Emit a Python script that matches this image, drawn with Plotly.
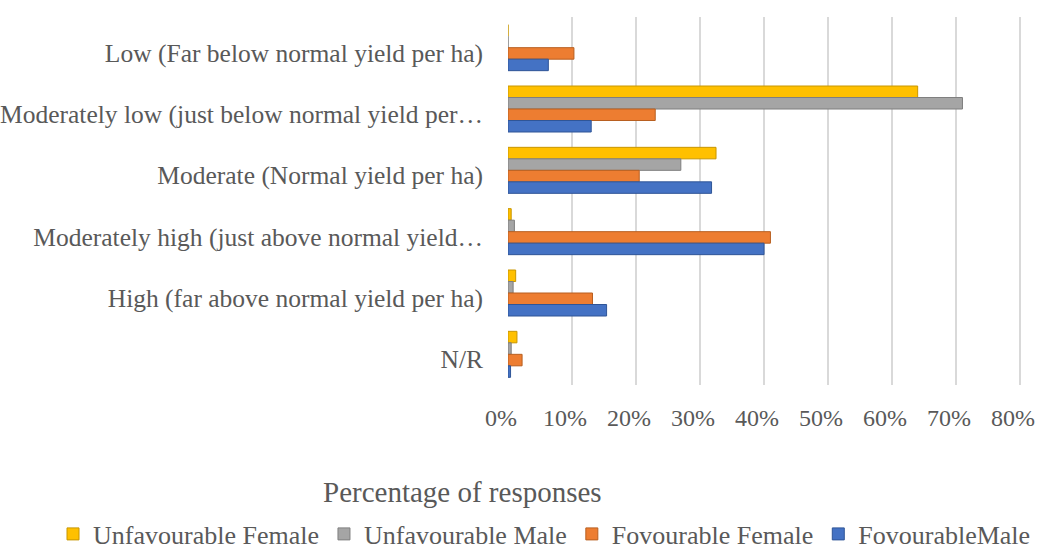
import plotly.graph_objects as go

categories = [
    "Low (Far below normal yield per ha)",
    "Moderately low (just below normal yield per…",
    "Moderate (Normal yield per ha)",
    "Moderately high (just above normal yield…",
    "High (far above normal yield per ha)",
    "N/R",
]
series_names = ["Unfavourable Female", "Unfavourable Male", "Fovourable Female", "FovourableMale"]
unfav_female = [0.0, 64.0, 32.5, 0.5, 1.2, 1.4]
unfav_male = [0.0, 71.0, 27.0, 1.0, 0.8, 0.5]
fav_female = [10.3, 23.0, 20.5, 41.0, 13.2, 2.2]
fav_male = [6.3, 13.0, 31.8, 40.0, 15.4, 0.4]
tick_vals = [0, 10, 20, 30, 40, 50, 60, 70, 80]
tick_text = ["0%", "10%", "20%", "30%", "40%", "50%", "60%", "70%", "80%"]

series_values = [unfav_female, unfav_male, fav_female, fav_male]
colors = ["#FFC000", "#A5A5A5", "#ED7D31", "#4472C4"]
edge = ["#C89600", "#7F7F7F", "#B85F20", "#2F5597"]

fig = go.Figure()
for name, vals, c, e in zip(series_names, series_values, colors, edge):
    fig.add_trace(go.Bar(
        y=categories, x=vals, name=name, orientation="h",
        marker=dict(color=c, line=dict(color=e, width=1)),
    ))

W, H = 1040, 549
L, R, T, B = 508, 18, 17, 164
pw, ph = W - L - R, H - T - B
font_family = "Liberation Serif, Times New Roman, serif"
fig.update_layout(
    width=W, height=H,
    margin=dict(l=L, r=R, t=T, b=B, autoexpand=False),
    paper_bgcolor="white", plot_bgcolor="white",
    barmode="group", bargap=0.25, bargroupgap=0.0,
    font=dict(family=font_family, size=24, color="#595959"),
    showlegend=True,
    legend=dict(orientation="h", x=(53 - L) / pw, xanchor="left",
                y=-(534 - (T + ph)) / ph, yanchor="middle",
                font=dict(size=26, color="#595959"), itemwidth=30,
                traceorder="normal"),
    xaxis=dict(range=[0, 80.3], tickvals=tick_vals, ticktext=tick_text,
               showgrid=True, gridcolor="#D9D9D9", gridwidth=2,
               zeroline=False, showline=False, ticks="", ticklabelstandoff=16,
               ticklabelshift=-7, automargin=False,
               tickfont=dict(size=24, color="#595959")),
    yaxis=dict(autorange="reversed", showgrid=False, showline=False, ticks="",
               automargin=False, ticklabelshift=-5,
               ticklabelstandoff=24, tickfont=dict(size=25.5, color="#595959")),
    annotations=[dict(text="Percentage of responses", xref="paper", yref="paper",
                      x=(462 - L) / pw, y=-(492 - (T + ph)) / ph,
                      xanchor="center", yanchor="middle",
                      showarrow=False, font=dict(size=29, color="#595959"))],
)

fig.write_html("out.html", config={"displayModeBar": False},
               post_script="document.body.style.margin='0';")
